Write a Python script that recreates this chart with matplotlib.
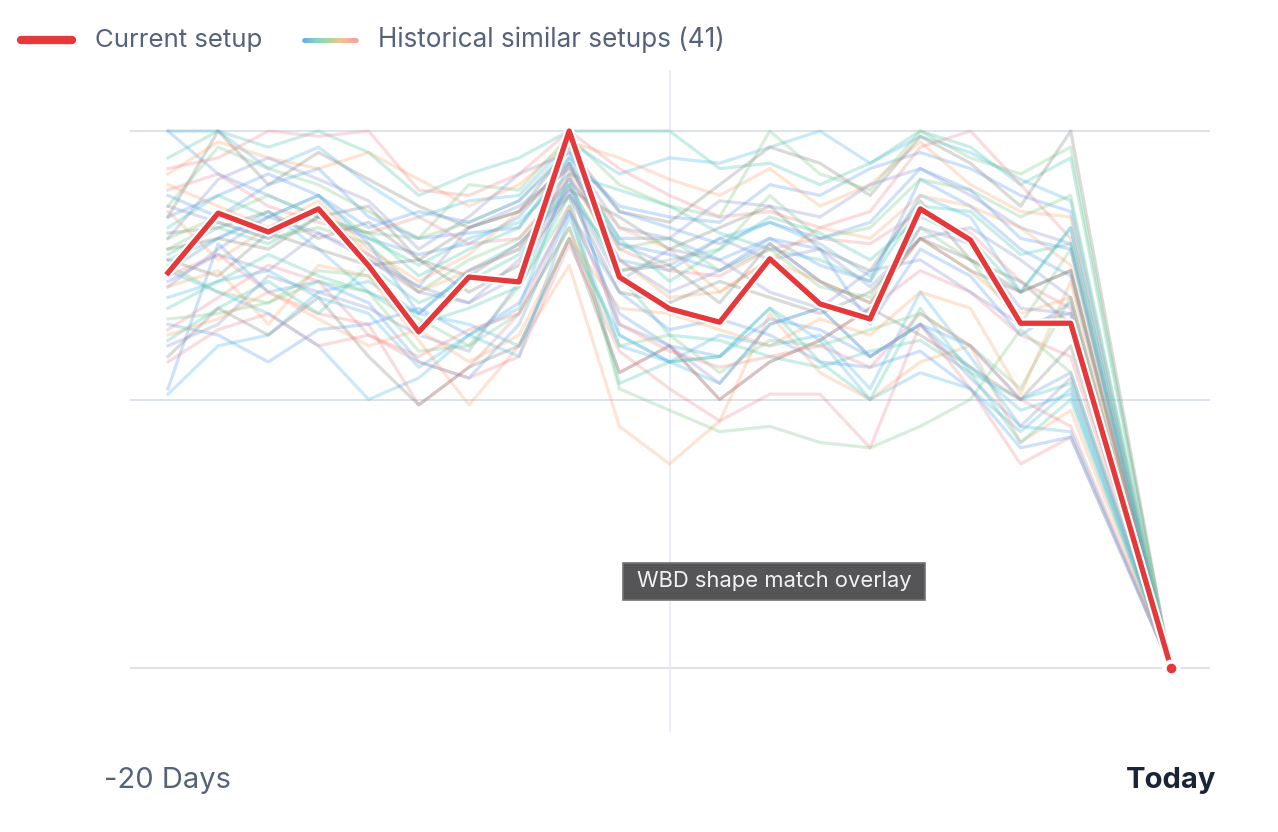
import matplotlib
matplotlib.use("Agg")
import matplotlib.pyplot as plt
import matplotlib.patheffects as pe
from matplotlib.lines import Line2D
from matplotlib.patches import Rectangle
from matplotlib.collections import LineCollection
from matplotlib.colors import LinearSegmentedColormap
import numpy as np

plt.rcParams['font.family'] = ['Inter', 'DejaVu Sans']

# x positions: days before today (day -1 has no point)
days = [-20, -19, -18, -17, -16, -15, -14, -13, -12, -11,
        -10, -9, -8, -7, -6, -5, -4, -3, -2, 0]
tick_days = [-20, 0]
tick_labels = ['-20 Days', 'Today']

# normalised shape (0 = today's close, 100 = window high)
current = [73.6, 84.7, 81.2, 85.5, 74.9, 62.6, 72.8, 71.9, 100, 72.8,
           66.9, 64.4, 76.2, 67.8, 65.0, 85.5, 79.7, 64.2, 64.2, 0]

historical = [
    [100, 92, 88, 84, 80, 77, 79, 84, 95, 86, 84, 83, 90, 88, 93, 96, 93, 88, 85, 0],
    [100, 100, 93, 97, 90, 84, 87, 88, 98, 92, 95, 94, 97, 100, 94, 99, 96, 91, 87, 0],
    [95, 100, 97, 100, 96, 88, 92, 95, 100, 100, 100, 93, 94, 90, 94, 100, 97, 90, 95, 0],
    [86, 97, 93, 90, 85, 80, 90, 89, 99, 90, 86, 84, 100, 92, 89, 100, 95, 92, 97, 0],
    [92, 98, 95, 93, 96, 91, 86, 90, 98, 95, 91, 88, 93, 86, 90, 98, 90, 85, 84, 0],
    [93, 95, 100, 99, 100, 89, 88, 92, 100, 93, 88, 84, 85, 82, 85, 97, 100, 90, 80, 0],
    [84, 100, 90, 96, 91, 86, 82, 85, 97, 85, 83, 90, 97, 94, 88, 99, 94, 86, 100, 0],
    [80, 91, 95, 91, 87, 78, 84, 92, 96, 82, 80, 87, 86, 84, 90, 93, 88, 82, 79, 0],
    [88, 84, 90, 93, 84, 80, 81, 82, 94, 80, 80, 76, 80, 75, 72, 91, 86, 78, 73, 0],
    [76, 80, 85, 78, 70, 66, 74, 79, 88, 76, 74, 80, 83, 79, 73, 88, 84, 70, 82, 0],
    [82, 88, 84, 88, 80, 75, 80, 83, 92, 89, 86, 81, 78, 76, 72, 86, 85, 77, 79, 0],
    [78, 83, 80, 82, 79, 70, 76, 80, 90, 74, 76, 78, 88, 80, 82, 91, 89, 84, 88, 0],
    [90, 86, 82, 87, 78, 72, 77, 85, 93, 82, 78, 70, 76, 82, 80, 88, 86, 82, 75, 0],
    [89, 92, 86, 83, 81, 84, 79, 80, 91, 78, 74, 73, 78, 80, 79, 85, 81, 72, 67, 0],
    [81, 82, 85, 80, 83, 76, 73, 79, 89, 84, 78, 82, 86, 78, 74, 87, 76, 72, 64, 0],
    [71, 78, 84, 81, 77, 71, 82, 86, 93, 79, 75, 80, 76, 78, 71, 80, 82, 76, 69, 0],
    [74, 80, 84, 88, 79, 66, 74, 78, 91, 79, 77, 74, 80, 78, 64, 78, 73, 62, 68, 0],
    [74, 70, 66, 60, 50, 54, 62, 67, 92, 62, 57, 53, 64, 67, 58, 64, 56, 48, 51, 0],
    [77, 82, 79, 84, 81, 73, 78, 82, 95, 80, 72, 78, 84, 81, 76, 84, 80, 70, 82, 0],
    [80, 84, 88, 84, 81, 80, 83, 87, 97, 78, 80, 74, 78, 71, 69, 82, 76, 64, 78, 0],
    [85, 76, 82, 86, 77, 70, 74, 78, 92, 76, 69, 70, 76, 72, 68, 80, 74, 66, 69, 0],
    [73, 77, 70, 66, 64, 49, 56, 66, 82, 55, 60, 50, 57, 61, 67, 74, 70, 62, 58, 0],
    [76, 73, 81, 78, 75, 76, 82, 85, 94, 74, 75, 68, 79, 72, 68, 80, 74, 70, 74, 0],
    [72, 77, 74, 81, 76, 71, 68, 76, 89, 72, 78, 76, 70, 67, 74, 76, 70, 64, 66, 0],
    [52, 79, 70, 72, 68, 57, 54, 64, 85, 66, 60, 58, 65, 63, 58, 64, 60, 50, 55, 0],
    [51, 60, 62, 70, 72, 66, 64, 60, 80, 62, 57, 58, 67, 61, 50, 55, 52, 44, 52, 0],
    [61, 67, 72, 66, 75, 68, 72, 77, 90, 73, 62, 61, 58, 56, 59, 61, 55, 50, 53, 0],
    [65, 66, 68, 74, 73, 65, 60, 71, 86, 52, 48, 44, 45, 42, 41, 45, 50, 63, 55, 0],
    [71, 74, 64, 75, 73, 61, 49, 60, 75, 45, 38, 46, 66, 55, 50, 57, 60, 42, 48, 0],
    [63, 69, 75, 72, 62, 57, 54, 58, 79, 59, 52, 46, 51, 51, 41, 64, 52, 38, 43, 0],
    [58, 67, 62, 69, 58, 49, 56, 60, 80, 55, 60, 50, 57, 61, 67, 62, 56, 50, 60, 0],
    [60, 64, 73, 70, 67, 62, 59, 72, 90, 64, 60, 53, 64, 67, 58, 64, 54, 45, 54, 0],
    [64, 62, 57, 63, 64, 67, 62, 68, 85, 70, 63, 65, 62, 57, 56, 59, 52, 41, 43, 0],
    [69, 72, 74, 69, 66, 56, 62, 58, 84, 60, 57, 62, 60, 62, 52, 70, 58, 45, 44, 0],
    [67, 72, 77, 73, 70, 64, 67, 71, 88, 53, 57, 58, 67, 57, 50, 67, 55, 42, 50, 0],
    [75, 70, 68, 72, 70, 59, 60, 66, 82, 60, 62, 55, 61, 60, 63, 66, 60, 52, 69, 0],
    [62, 65, 70, 65, 60, 63, 57, 62, 80, 67, 66, 63, 60, 65, 62, 70, 67, 51, 72, 0],
    [57, 63, 66, 60, 62, 58, 63, 66, 86, 64, 59, 56, 58, 60, 56, 66, 60, 50, 45, 0],
    [78, 80, 78, 84, 86, 76, 70, 75, 88, 70, 68, 72, 69, 66, 70, 80, 76, 70, 74, 0],
    [86, 83, 80, 86, 76, 70, 68, 73, 94, 76, 70, 74, 79, 72, 66, 82, 79, 67, 66, 0],
    [84, 88, 92, 88, 82, 85, 83, 87, 96, 85, 82, 79, 83, 80, 83, 93, 89, 80, 78, 0],
]

palette = ['#5b9cf0', '#4cb8e8', '#4cc9b0', '#7ccb86',
           '#fba66e', '#f28b93', '#86867e', '#8a93d0']
legend_grad = ['#6aa8f4', '#7fd8c4', '#a5d99c', '#f6c48e', '#f4a69c']
red = '#e5383b'

W, H = 1278, 832
fig = plt.figure(figsize=(W / 100, H / 100), dpi=100)
ax = fig.add_axes([130 / W, 1 - 732 / H, 1080 / W, 662 / H])

for y in [0, 50, 100]:
    ax.axhline(y, color='#dde3ee', lw=1.4, zorder=0)
ax.axvline(-10, color='#e6eaf1', lw=1.2, zorder=0)

for i, s in enumerate(historical):
    ax.plot(days, s, color=palette[i % len(palette)], alpha=0.3, lw=2.3, zorder=2)

ax.plot(days, current, color=red, lw=3.8, zorder=5, solid_joinstyle='round',
        path_effects=[pe.Stroke(linewidth=6.8, foreground='white'), pe.Normal()])
ax.plot(days[-1:], current[-1:], 'o', ms=10, mfc=red, mec='white', mew=3, zorder=6,
        clip_on=False)

ax.set_xlim(-20 - 38 / 50.15, 39 / 50.15)
ax.set_ylim(-64 / 5.37, 100 + 61 / 5.37)
for sp in ax.spines.values():
    sp.set_visible(False)
ax.set_yticks([])
ax.set_xticks(tick_days)
ax.set_xticklabels(tick_labels)
ax.tick_params(axis='x', length=0, pad=25, labelsize=21, labelcolor='#56627a')
today = ax.get_xticklabels()[1]
today.set_fontweight('bold')
today.set_color('#1b2436')

# legend
ly = 1 - 40 / H
fig.add_artist(Line2D([21 / W, 72 / W], [ly, ly], transform=fig.transFigure,
                      color=red, lw=6, solid_capstyle='round'))
cmap = LinearSegmentedColormap.from_list('hist', legend_grad)
xs = np.linspace(304 / W, 356 / W, 40)
segs = [[(xs[k], ly), (xs[k + 1], ly)] for k in range(len(xs) - 1)]
lc = LineCollection(segs, colors=cmap(np.linspace(0, 1, len(segs))), lw=3.4,
                    capstyle='round', transform=fig.transFigure)
fig.add_artist(lc)
fig.text(95 / W, ly, 'Current setup', ha='left', va='center', fontsize=18.6, color='#56627a')
fig.text(378 / W, ly, 'Historical similar setups (41)', ha='left', va='center',
         fontsize=18.8, color='#56627a')

# tooltip label
fig.add_artist(Rectangle((623 / W, 1 - 600 / H), 302 / W, 37 / H, transform=fig.transFigure,
                         facecolor='#555557', edgecolor='#727274', lw=1.2, zorder=10))
fig.text(774 / W, 1 - 581 / H, 'WBD shape match overlay', ha='center', va='center',
         fontsize=15.8, color='#f2f2f2', zorder=11)

fig.savefig('out.png', dpi=100)
